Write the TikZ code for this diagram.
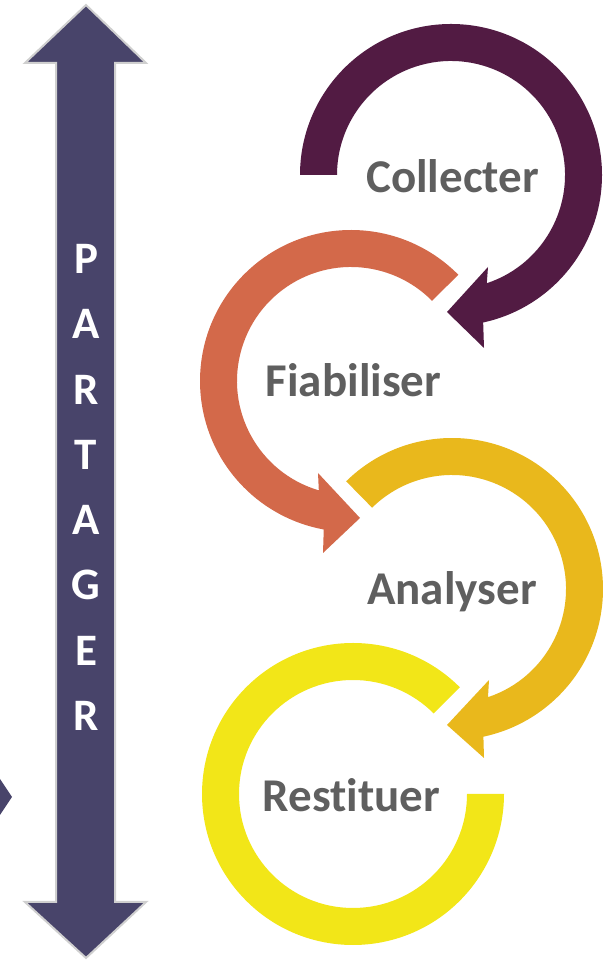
\documentclass[tikz,border=0pt]{standalone}
\usepackage{fontspec}
\setmainfont[Ligatures=NoCommon]{Carlito}
\usetikzlibrary{calc}
\definecolor{arrowblue}{HTML}{48446A}
\definecolor{arrowedge}{HTML}{CFCFCF}
\definecolor{cpurple}{HTML}{521B43}
\definecolor{corange}{HTML}{D3694A}
\definecolor{cgold}{HTML}{E9B81C}
\definecolor{cyellow}{HTML}{F2E618}
\definecolor{labelgray}{HTML}{5F5F5F}
\tikzset{
  steplabel/.style={font=\fontsize{47}{50}\selectfont\bfseries, text=labelgray, inner sep=0pt, anchor=base},
  vletter/.style={font=\fontsize{45}{47}\selectfont\bfseries, text=white, inner sep=0pt, anchor=base},
  bigarrow/.style={fill=arrowblue, draw=arrowedge, line width=2pt, line join=miter}
}
\begin{document}
\begin{tikzpicture}[x=1pt,y=1pt]
\useasboundingbox (0,0) rectangle (602,960);

% double arrow
\draw[bigarrow] (86,955) -- (146,897) -- (115,897) -- (115,58) -- (146,58) -- (86,2)
  -- (25,58) -- (56,58) -- (56,897) -- (25,897) -- cycle;
% small clipped shape at the left edge
\fill[arrowblue] (0,181) -- (12,163) -- (0,145) -- cycle;

% vertical word
\foreach \ch/\yy [count=\i] in {P/686, A/621, R/555, T/490, A/425, G/360, E/294, R/229}
  \node[vletter] (L\i) at (86,\yy) {\ch};

% centres
\coordinate (pc) at (451,785);
\coordinate (oc) at (351,579);
\coordinate (ac) at (452,371);
\coordinate (rc) at (353,166);

% yellow ring (Restituer)
\fill[cyellow] ($(rc)+(45:114pt)$) -- ($(rc)+(45:151pt)$)
  arc[start angle=45, end angle=360, radius=151pt]
  -- ($(rc)+(0:114pt)$)
  arc[start angle=360, end angle=45, radius=114pt] -- cycle;

% gold arrow (Analyser)
\fill[cgold] ($(ac)+(134.5:114pt)$) -- ($(ac)+(134.5:151pt)$)
  arc[start angle=134.5, end angle=-78, radius=151pt]
  -- (484,202) -- (447,235) -- (489,280)
  -- ($(ac)+(-71.6:114pt)$)
  arc[start angle=-71.6, end angle=134.5, radius=114pt] -- cycle;

% orange arrow (Fiabiliser)
\fill[corange] ($(oc)+(44.7:114pt)$) -- ($(oc)+(44.7:151pt)$)
  arc[start angle=44.7, end angle=259.6, radius=151pt]
  -- (323,407) -- (360,442) -- (318,487)
  -- ($(oc)+(253.6:114pt)$)
  arc[start angle=253.6, end angle=44.7, radius=114pt] -- cycle;

% purple arrow (Collecter)
\fill[cpurple] ($(pc)+(180:114pt)$) -- ($(pc)+(180:151pt)$)
  arc[start angle=180, end angle=-77.7, radius=151pt]
  -- (484,612) -- (447,648) -- (488,693)
  -- ($(pc)+(-71.7:114pt)$)
  arc[start angle=-71.7, end angle=180, radius=114pt] -- cycle;

% labels
\node[steplabel] (collecter) at (452.5,767) {Collecter};
\node[steplabel] (fiabiliser) at (353.5,563) {Fiabiliser};
\node[steplabel] (analyser) at (452,355) {Analyser};
\node[steplabel] (restituer) at (351.5,148) {Restituer};
\end{tikzpicture}
\end{document}
